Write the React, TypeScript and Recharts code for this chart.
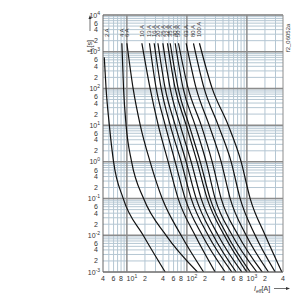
import React from 'react';
import { LineChart, Line, XAxis, YAxis, ReferenceLine, ReferenceDot } from 'recharts';

// Fuse ratings (curve labels)
const ratings = ['2 A', '4 A', '6 A', '10 A', '13 A', '16 A', '20 A', '25 A', '32 A', '35 A', '40 A', '50 A', '63 A', '80 A', '100 A'];

// Pre-arcing times [s] at which currents are read
const times2A = [700, 100, 10, 1, 0.1, 0.01, 0.001];
const timesStd = [1700, 100, 10, 1, 0.1, 0.01, 0.001];

// Currents [A] for each curve at the times above
const cur2A = [4.2, 4.5, 5.1, 6.0, 8.7, 18.7, 43.5];
const cur4A = [8.25, 8.8, 9.7, 12.0, 19, 45, 150];
const cur6A = [10, 12.7, 16.7, 24.4, 38.8, 80, 190];
const cur10A = [17.8, 24.4, 33.3, 48.8, 71.6, 137, 296];
const cur13A = [23.8, 30.8, 43.5, 63.8, 93.7, 180, 435];
const cur16A = [28.5, 37.3, 52.7, 80.4, 118, 226, 562];
const cur20A = [32.9, 43.5, 63.8, 97.3, 143, 274, 663];
const cur25A = [39.8, 52.7, 77.3, 118, 173, 332, 825];
const cur32A = [47.5, 63.8, 97.3, 148, 218, 419, 1000];
const cur35A = [52.7, 71.6, 109, 167, 244, 470, 1135];
const cur40A = [63.8, 86.7, 137, 210, 296, 569, 1468];
const cur50A = [72.4, 105, 173, 264, 373, 716, 1800];
const cur63A = [97.3, 143, 235, 373, 527, 973, 2290];
const cur80A = [128.8, 194, 332, 547, 773, 1375, 2965];
const cur100A = [162, 264, 488, 803, 1135, 2018, 3830];

const curveCurrents = [cur2A, cur4A, cur6A, cur10A, cur13A, cur16A, cur20A, cur25A, cur32A, cur35A, cur40A, cur50A, cur63A, cur80A, cur100A];

// Axis ticks
const xTicks = [4, 6, 8, 10, 20, 40, 60, 80, 100, 200, 400, 600, 800, 1000, 2000, 4000];
const yTicks = [0.001, 0.002, 0.004, 0.006, 0.01, 0.02, 0.04, 0.06, 0.1, 0.2, 0.4, 0.6, 1, 2, 4, 6, 10, 20, 40, 60, 100, 200, 400, 600, 1000, 2000, 4000, 6000, 10000];

// Grid
const xMajor = [10, 100, 1000];
const xMinor = [5, 6, 7, 8, 9, 20, 30, 40, 50, 60, 70, 80, 90, 200, 300, 400, 500, 600, 700, 800, 900, 2000, 3000];
const yMajor = [0.001, 0.01, 0.1, 1, 10, 100, 1000, 10000];
const yMinorMult = [2, 3, 4, 5, 6, 7, 8, 9];
const yDecades = [0.001, 0.01, 0.1, 1, 10, 100, 1000];

const labelTime = 2500;

const series = curveCurrents.map((cur, k) => {
  const ts = k === 0 ? times2A : timesStd;
  return cur.map((i, j) => ({ i, t: ts[j] }));
});

const FONT = '"Liberation Sans", Arial, sans-serif';
const TXT = '#333';

function splitPow(v: number) {
  const e = Math.floor(Math.log10(v) + 1e-9);
  const m = Math.round(v / Math.pow(10, e));
  return { e, m };
}

const XTick = (props: any) => {
  const { x, y, payload } = props;
  const { e, m } = splitPow(payload.value);
  if (m === 1) {
    return (
      <text x={x + 5} y={y + 7} textAnchor="middle" fontSize={7} fill={TXT} fontFamily={FONT}>
        10<tspan dy={-3} fontSize={5}>{e}</tspan>
      </text>
    );
  }
  return (
    <text x={x} y={y + 7} textAnchor="middle" fontSize={7} fill={TXT} fontFamily={FONT}>
      {m}
    </text>
  );
};

const YTick = (props: any) => {
  const { x, y, payload } = props;
  const { e, m } = splitPow(payload.value);
  if (m === 1) {
    return (
      <text x={x} y={y + 2.5} textAnchor="end" fontSize={7} fill={TXT} fontFamily={FONT}>
        10<tspan dy={-3} fontSize={5}>{e}</tspan>
      </text>
    );
  }
  return (
    <text x={x - 2} y={y + 2.5} textAnchor="end" fontSize={7} fill={TXT} fontFamily={FONT}>
      {m}
    </text>
  );
};

const makeLabel = (text: string, dx: number) => (props: any) => {
  const { cx, cy } = props;
  const x = cx + dx;
  return (
    <text
      x={x}
      y={cy}
      transform={`rotate(-90 ${x} ${cy})`}
      textAnchor="start"
      dominantBaseline="central"
      fontSize={6}
      fill={TXT}
      fontFamily={FONT}
    >
      {text}
    </text>
  );
};

export default function App() {
  const minorY: number[] = [];
  yDecades.forEach((d) => yMinorMult.forEach((m) => minorY.push(+(d * m).toPrecision(3))));
  return (
    <div style={{ position: 'absolute', left: 0, top: 0, width: 300, height: 300, background: '#fff' }}>
      <LineChart width={300} height={300} margin={{ top: 15, right: 17, bottom: 0, left: 0 }}>
        <XAxis
          type="number"
          dataKey="i"
          scale="log"
          domain={[4, 4000]}
          allowDataOverflow
          ticks={xTicks}
          tick={<XTick />}
          tickLine={false}
          tickSize={0}
          height={28}
          axisLine={{ stroke: '#777' }}
          interval={0}
        />
        <YAxis
          type="number"
          dataKey="t"
          scale="log"
          domain={[0.001, 10000]}
          allowDataOverflow
          ticks={yTicks}
          tick={<YTick />}
          tickLine={false}
          tickSize={0}
          tickMargin={3}
          width={103}
          axisLine={{ stroke: '#666' }}
          interval={0}
        />
        {xMinor.map((v) => (
          <ReferenceLine key={'xm' + v} x={v} stroke="#b5c7d3" strokeWidth={1} />
        ))}
        {minorY.map((v) => (
          <ReferenceLine key={'ym' + v} y={v} stroke="#b5c7d3" strokeWidth={1} />
        ))}
        {xMajor.map((v) => (
          <ReferenceLine key={'xM' + v} x={v} stroke="#8c8c8c" strokeWidth={1.5} />
        ))}
        {yMajor.map((v) => (
          <ReferenceLine key={'yM' + v} y={v} stroke="#8c8c8c" strokeWidth={1.5} />
        ))}
        <ReferenceLine x={4000} stroke="#8c8c8c" strokeWidth={1} />
        <ReferenceLine y={10000} stroke="#8c8c8c" strokeWidth={1} />
        {series.map((d, k) => (
          <Line
            key={ratings[k]}
            data={d}
            dataKey="t"
            type="monotone"
            stroke="#111"
            strokeWidth={1.2}
            dot={false}
            activeDot={false}
            isAnimationActive={false}
          />
        ))}
        {curveCurrents.map((cur, k) => (
          <ReferenceDot
            key={'lab' + k}
            x={cur[0]}
            y={labelTime}
            r={0}
            ifOverflow="visible"
            shape={makeLabel(ratings[k], k === 0 ? 2.5 : 0)}
          />
        ))}
      </LineChart>
      <svg width={300} height={300} style={{ position: 'absolute', left: 0, top: 0, pointerEvents: 'none' }}>
        <g fontFamily={FONT} fill={TXT}>
          <text x={0} y={0} transform="translate(92 52) rotate(-90)" fontSize={7}>
            t<tspan dy={1.5} fontSize={5}>v</tspan>
            <tspan dy={-1.5}>[s]</tspan>
          </text>
          <line x1={90} y1={31} x2={90} y2={18} stroke={TXT} strokeWidth={0.7} />
          <polygon points="88.5,19 91.5,19 90,15" fill={TXT} />
          <text x={0} y={0} transform="translate(290 52) rotate(-90)" fontSize={6}>
            f2_06052a
          </text>
          <text x={254} y={291} fontSize={7} fontStyle="italic">
            I<tspan dy={1.5} fontSize={5}>eff</tspan>
            <tspan dy={-1.5} fontStyle="normal">[A]</tspan>
          </text>
          <line x1={274} y1={288.5} x2={287} y2={288.5} stroke={TXT} strokeWidth={0.7} />
          <polygon points="286,287 286,290 290,288.5" fill={TXT} />
        </g>
      </svg>
    </div>
  );
}
